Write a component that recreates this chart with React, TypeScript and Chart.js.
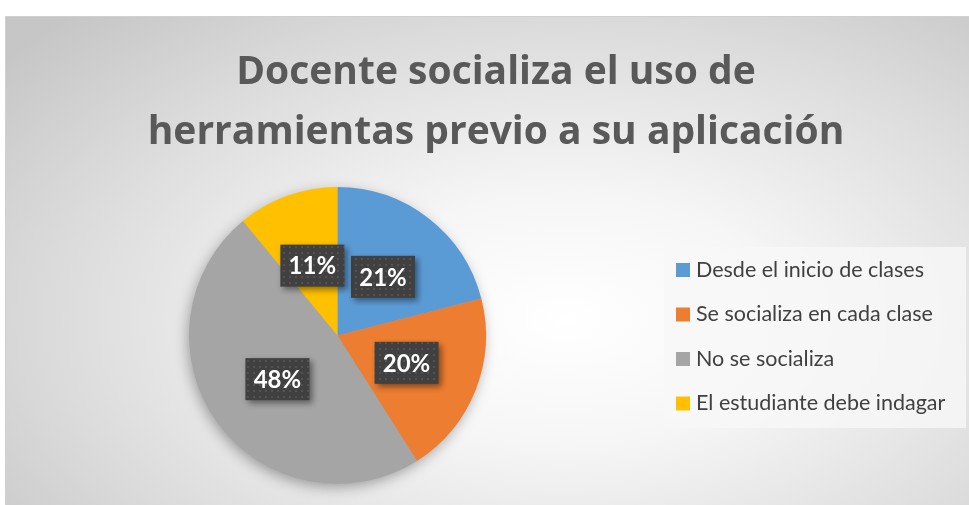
import React, { useEffect, useRef } from "react";
import { Chart, registerables } from "chart.js";

Chart.register(...registerables);

const titleLines = ["Docente socializa el uso de", "herramientas previo a su aplicación"];
const categories = [
  "Desde el inicio de clases",
  "Se socializa en cada clase",
  "No se socializa",
  "El estudiante debe indagar",
];
const values = [21, 20, 48, 11];
const colors = ["#5B9BD5", "#ED7D31", "#A5A5A5", "#FFC000"];

const FONT = "Lato, 'Open Sans', sans-serif";
const TITLE_FONT = "'Open Sans', Lato, sans-serif";

function makePattern(ctx: CanvasRenderingContext2D) {
  const c = document.createElement("canvas");
  c.width = 6;
  c.height = 6;
  const p = c.getContext("2d")!;
  p.fillStyle = "#404040";
  p.fillRect(0, 0, 6, 6);
  p.fillStyle = "#525252";
  p.fillRect(1, 1, 2, 2);
  return ctx.createPattern(c, "repeat")!;
}

const decor = {
  id: "decor",
  beforeDatasetsDraw(chart: any) {
    const ctx = chart.ctx as CanvasRenderingContext2D;
    const meta = chart.getDatasetMeta(0);
    const a = meta.data[0];
    if (!a) return;
    ctx.save();
    ctx.shadowColor = "rgba(0,0,0,0.35)";
    ctx.shadowBlur = 14;
    ctx.shadowOffsetX = -2;
    ctx.shadowOffsetY = 4;
    ctx.fillStyle = "#A5A5A5";
    ctx.beginPath();
    ctx.arc(a.x, a.y, a.outerRadius - 1, 0, Math.PI * 2);
    ctx.fill();
    ctx.restore();
  },
  afterDatasetsDraw(chart: any) {
    const ctx = chart.ctx as CanvasRenderingContext2D;
    const meta = chart.getDatasetMeta(0);
    const pattern = makePattern(ctx);
    const total = values.reduce((s, v) => s + v, 0);
    meta.data.forEach((arc: any, i: number) => {
      const mid = (arc.startAngle + arc.endAngle) / 2;
      const r = arc.outerRadius * 0.5;
      const cx = arc.x + Math.cos(mid) * r;
      const cy = arc.y + Math.sin(mid) * r;
      const w = 64;
      const h = 42;
      ctx.save();
      ctx.shadowColor = "rgba(0,0,0,0.45)";
      ctx.shadowBlur = 6;
      ctx.shadowOffsetX = 3;
      ctx.shadowOffsetY = 3;
      ctx.fillStyle = pattern;
      ctx.fillRect(cx - w / 2, cy - h / 2, w, h);
      ctx.restore();
      ctx.save();
      ctx.fillStyle = "#ffffff";
      ctx.font = `bold 24px ${FONT}`;
      ctx.textAlign = "center";
      ctx.textBaseline = "middle";
      const pct = Math.round((values[i] / total) * 100) + "%";
      ctx.fillText(pct, cx, cy + 1);
      ctx.restore();
    });

    // title
    ctx.save();
    ctx.fillStyle = "#595959";
    ctx.font = `bold 39px ${TITLE_FONT}`;
    ctx.textAlign = "center";
    ctx.textBaseline = "alphabetic";
    ctx.fillText(titleLines[0], 490, 67);
    ctx.fillText(titleLines[1], 490, 127);
    ctx.restore();

    // legend
    ctx.save();
    const lx = 658, ly = 230, lw = 302, lh = 181;
    ctx.fillStyle = "rgba(248,248,248,0.8)";
    ctx.fillRect(lx, ly, lw, lh);
    ctx.font = `21.5px ${FONT}`;
    ctx.textBaseline = "middle";
    ctx.textAlign = "left";
    categories.forEach((c, i) => {
      const y = 253 + i * 44.5;
      ctx.fillStyle = colors[i];
      ctx.fillRect(670, y - 7, 14, 14);
      ctx.fillStyle = "#404040";
      ctx.fillText(c, 690, y);
    });
    ctx.restore();
  },
};

export default function App() {
  const ref = useRef<HTMLCanvasElement>(null);
  useEffect(() => {
    const chart = new Chart(ref.current!, {
      type: "pie",
      data: {
        labels: categories,
        datasets: [
          {
            data: values,
            backgroundColor: colors,
            borderWidth: 0,
          },
        ],
      },
      options: {
        animation: false,
        responsive: false,
        layout: { padding: { left: 183, right: 483, top: 170, bottom: 21 } },
        plugins: {
          legend: { display: false },
          title: { display: false },
          tooltip: { enabled: false },
        },
      },
      plugins: [decor],
    });
    return () => chart.destroy();
  }, []);
  return (
    <div
      style={{
        position: "absolute",
        left: 5,
        top: 16,
        width: 964,
        height: 489,
        borderTop: "1px solid #d0d0d0",
        borderLeft: "1px solid #d0d0d0",
        boxSizing: "border-box",
        background:
          "radial-gradient(ellipse 75% 85% at 58% 62%, #ffffff 0%, #f6f6f6 30%, #dcdcdc 70%, #c6c6c6 100%)",
      }}
    >
      <canvas ref={ref} width={963} height={488} style={{ display: "block" }} />
    </div>
  );
}
